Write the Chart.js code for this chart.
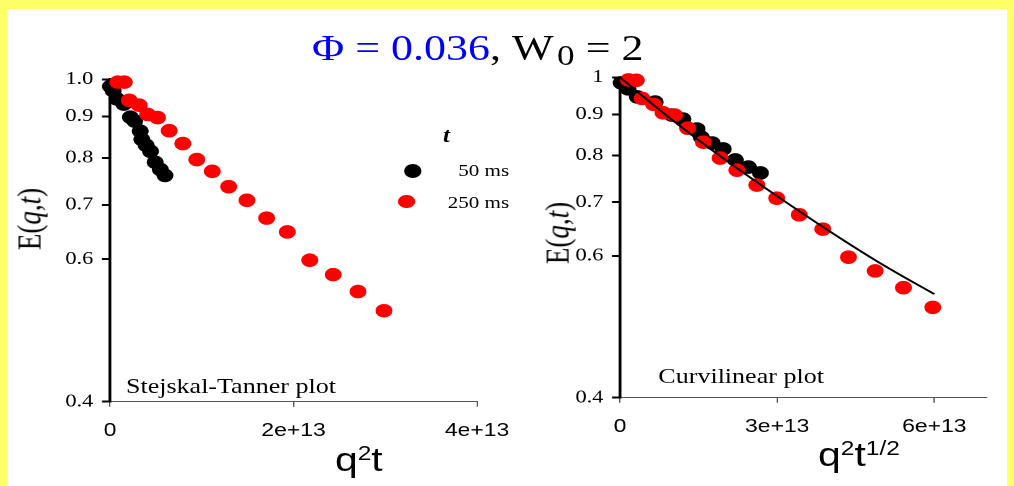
<!DOCTYPE html>
<html>
<head>
<meta charset="utf-8">
<script src="https://cdn.jsdelivr.net/npm/chart.js@4.4.1/dist/chart.umd.min.js"></script>
<style>
  html,body{margin:0;padding:0;background:#FFFF66;width:1014px;height:486px;overflow:hidden;}
  #paper{position:absolute;left:7px;top:9px;width:1000px;height:477px;background:#fff;}
  #wrap{position:absolute;left:0;top:0;width:818px;height:486px;transform:scaleX(1.2396);transform-origin:0 0;}
  canvas{position:absolute;top:0;}
  .t{position:absolute;white-space:nowrap;color:#000;}
  .serif{font-family:"Liberation Serif","Times New Roman",serif;}
  .sans{font-family:"Liberation Sans",Arial,sans-serif;}
  .dot{position:absolute;border-radius:50%;}
</style>
</head>
<body>
<div id="paper"></div>
<div id="wrap">
  <canvas id="c1"></canvas>
  <canvas id="c2"></canvas>
  <div class="t serif" style="left:251.7px;top:31px;font-size:35.5px;line-height:35.5px;"><span style="color:#0000ff">&Phi; = 0.036</span>, W<span style="position:relative;top:0.16em;font-size:0.8em;margin-left:0.1em;">0</span> = 2</div>
  <div class="t sans" style="left:270.2px;top:442.6px;font-size:33px;line-height:33px;">q<span style="position:relative;top:-0.55em;font-size:0.6em;">2</span>t</div>
  <div class="t sans" style="left:659.9px;top:438px;font-size:33px;line-height:33px;">q<span style="position:relative;top:-0.55em;font-size:0.6em;">2</span>t<span style="position:relative;top:-0.55em;font-size:0.6em;">1/2</span></div>
  <div class="t serif" style="left:24.2px;top:219px;font-size:27px;line-height:27px;transform:translate(-50%,-50%) rotate(-90deg);">E(<i>q</i>,<i>t</i>)</div>
  <div class="t serif" style="left:449.8px;top:233px;font-size:27px;line-height:27px;transform:translate(-50%,-50%) rotate(-90deg);">E(<i>q</i>,<i>t</i>)</div>
  <div class="t serif" style="left:101.6px;top:375.7px;font-size:21px;line-height:21px;">Stejskal-Tanner plot</div>
  <div class="t serif" style="left:531.1px;top:365.7px;font-size:21px;line-height:21px;">Curvilinear plot</div>
  <div class="t serif" style="left:357.4px;top:125px;font-size:20px;line-height:20px;font-weight:bold;font-style:italic;">t</div>
  <div class="dot" style="left:325.6px;top:163.7px;width:14px;height:14px;background:#000;"></div>
  <div class="dot" style="left:321.3px;top:194.9px;width:13.5px;height:13.5px;background:#ff0000;"></div>
  <div class="t serif" style="right:407.3px;top:162.4px;font-size:17px;line-height:17px;">50 ms</div>
  <div class="t serif" style="right:407.3px;top:194px;font-size:17px;line-height:17px;">250 ms</div>
</div>
<script>
// ---------- data (x in units of 1e12) ----------
const stX50  = [0.05, 0.34, 0.73, 1.50, 2.22, 2.69, 3.29, 3.47, 3.94, 4.41, 4.92, 5.48, 5.99];
const stY50  = [0.980, 0.968, 0.946, 0.932, 0.898, 0.888, 0.863, 0.843, 0.829, 0.815, 0.790, 0.774, 0.761];
const stX250 = [0.84, 1.55, 2.10, 3.18, 4.10, 5.18, 6.45, 7.93, 9.46, 11.14, 12.93, 14.92, 17.07, 19.32, 21.77, 24.32, 27.03, 29.86];
const stY250 = [0.992, 0.992, 0.942, 0.929, 0.905, 0.897, 0.864, 0.833, 0.796, 0.770, 0.737, 0.709, 0.674, 0.648, 0.598, 0.574, 0.547, 0.518];

const cvX50  = [0.2, 1.5, 3.3, 6.7, 9.9, 12.0, 14.7, 15.5, 17.6, 19.7, 22.0, 24.5, 26.8];
const cvY50  = [0.985, 0.968, 0.946, 0.932, 0.898, 0.888, 0.863, 0.843, 0.829, 0.815, 0.790, 0.774, 0.761];
const cvX250 = [1.6, 3.1, 4.2, 6.4, 8.2, 10.4, 12.9, 15.9, 19.1, 22.3, 26.1, 29.9, 34.2, 38.7, 43.6, 48.7, 54.1, 59.7];
const cvY250 = [0.993, 0.992, 0.942, 0.926, 0.904, 0.898, 0.865, 0.831, 0.794, 0.767, 0.735, 0.708, 0.675, 0.648, 0.598, 0.575, 0.548, 0.518];

const fitX = [0, 10, 20, 30, 40, 50, 60];
const fitY = [1.0, 0.885, 0.791, 0.712, 0.644, 0.586, 0.538];

const yTickValues   = [0.4, 0.6, 0.7, 0.8, 0.9, 1.0];
const yTickLabelsST = ['0.4', '0.6', '0.7', '0.8', '0.9', '1.0'];
const yTickLabelsCV = ['0.4', '0.6', '0.7', '0.8', '0.9', '1'];
const xTicksST = [0, 20, 40];
const xTicksCV = [0, 30, 60];
const xMaxST = 40, xMaxCV = 70;
const E12 = 1e12;

function pts(xs, ys){ return xs.map((x,i)=>({x:x*E12, y:ys[i]})); }
function xLabel(v){ return v===0 ? '0' : v.toExponential(); }

function makeChart(id, cfg){
  const el = document.getElementById(id);
  el.style.left = cfg.canvasLeft + 'px';
  el.width = cfg.canvasWidth; el.height = 486;
  return new Chart(el, {
    type: 'scatter',
    data: { datasets: cfg.datasets },
    options: {
      responsive: false, animation: false, devicePixelRatio: 2,
      layout: { padding: { left: 0, right: cfg.padRight, top: cfg.top, bottom: 0 } },
      plugins: { legend: { display: false }, tooltip: { enabled: false } },
      scales: {
        x: {
          type: 'linear', min: 0, max: cfg.xMax * E12,
          afterBuildTicks: s => { s.ticks = cfg.xTicks.map(v => ({ value: v * E12 })); },
          afterFit: s => { s.height = cfg.xAxisH; },
          ticks: { autoSkip: false, maxRotation: 0, padding: 13, color: '#000',
                   font: { family: '"Liberation Sans", Arial, sans-serif', size: 18.5 },
                   callback: v => xLabel(v) },
          grid: { drawOnChartArea: false, drawTicks: true, tickLength: 5, color: '#555', lineWidth: 1 },
          border: { display: true, color: '#555', width: 1 }
        },
        y: {
          type: 'logarithmic', min: 0.4, max: 1.0,
          afterBuildTicks: s => { s.ticks = yTickValues.map(v => ({ value: v })); },
          afterFit: s => { s.width = cfg.yAxisW; },
          ticks: { autoSkip: false, padding: 7, color: '#000',
                   font: { family: '"Liberation Serif", "Times New Roman", serif', size: 18 },
                   callback: v => { const i = yTickValues.findIndex(t => Math.abs(t - v) < 1e-9); return i >= 0 ? cfg.yLabels[i] : ''; } },
          grid: { drawOnChartArea: false, drawTicks: true, tickLength: 6.5, color: '#000', lineWidth: 2 },
          border: { display: true, color: '#000', width: 2.3 }
        }
      }
    }
  });
}

const dotStyle = (color) => ({ pointRadius: 6.8, pointHoverRadius: 6.8, pointBorderWidth: 0, backgroundColor: color, borderColor: color, showLine: false, clip: false });

makeChart('c1', {
  canvasLeft: 0, canvasWidth: 450, padRight: 450 - 384.8, top: 79.3,
  xAxisH: 486 - 401.7, yAxisW: 88.74, xMax: xMaxST, xTicks: xTicksST, yLabels: yTickLabelsST,
  datasets: [
    Object.assign({ label: '250 ms', data: pts(stX250, stY250), order: 0 }, dotStyle('#ff0000')),
    Object.assign({ label: '50 ms',  data: pts(stX50, stY50),  order: 1 }, dotStyle('#000000'))
  ]
});

makeChart('c2', {
  canvasLeft: 410, canvasWidth: 408, padRight: 818 - 796, top: 77.5,
  xAxisH: 486 - 397.7, yAxisW: 500.2 - 410, xMax: xMaxCV, xTicks: xTicksCV, yLabels: yTickLabelsCV,
  datasets: [
    { label: 'fit', data: pts(fitX, fitY), type: 'line', showLine: true, borderColor: '#000', borderWidth: 1.8,
      pointRadius: 0, tension: 0.4, fill: false, order: -1, clip: false },
    Object.assign({ label: '250 ms', data: pts(cvX250, cvY250), order: 0 }, dotStyle('#ff0000')),
    Object.assign({ label: '50 ms',  data: pts(cvX50, cvY50),  order: 1 }, dotStyle('#000000'))
  ]
});
</script>
</body>
</html>
